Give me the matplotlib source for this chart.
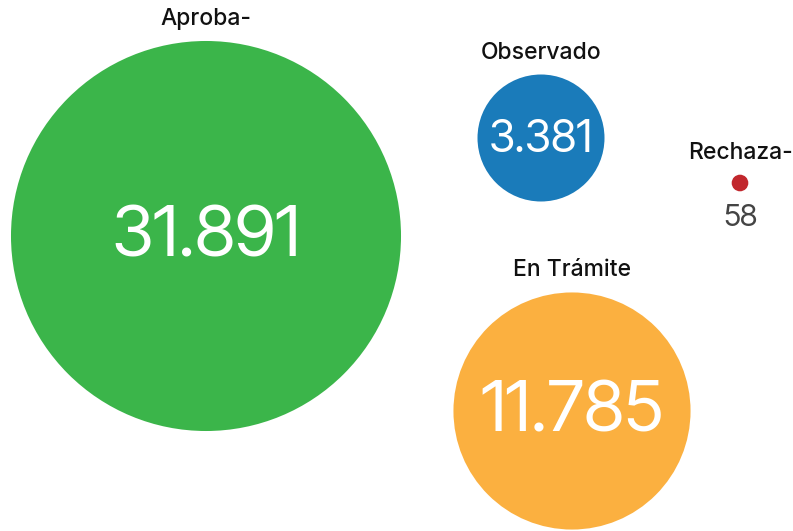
import matplotlib
matplotlib.use("Agg")
from matplotlib import pyplot as plt
from matplotlib.patches import Circle
import numpy as np

# data
labels = ["Aproba-", "Observado", "Rechaza-", "En Trámite"]
values = [31891, 3381, 58, 11785]
value_text = ["31.891", "3.381", "58", "11.785"]
colors = ["#3bb54a", "#1a7bba", "#c1272d", "#fbb040"]

# layout (pixel coords of bubble centres)
centres = [(206, 236), (541, 138), (740, 183), (572, 411)]
scale = 1.092  # px per sqrt(unit)

plt.rcParams['font.family'] = ['Inter', 'DejaVu Sans']
num_font = ['Inter Tight', 'Open Sans', 'DejaVu Sans']

fig = plt.figure(figsize=(7.93, 5.31), dpi=100)
ax = fig.add_axes([0, 0, 1, 1])
ax.set_xlim(0, 793)
ax.set_ylim(531, 0)
ax.set_aspect('equal')
ax.axis('off')

for lab, v, vt, c, (cx, cy) in zip(labels, values, value_text, colors, centres):
    r = np.sqrt(v) * scale
    ax.add_patch(Circle((cx, cy), r, color=c, lw=0))
    ax.text(cx, cy - r - 11, lab, ha='center', va='bottom', fontsize=16.5,
            fontweight=500, color='#111111')
    if r > 30:
        fs = 51 if r > 100 else 32
        ax.text(cx, cy + 2, vt, ha='center', va='center', fontsize=fs,
                color='white', family=num_font)
    else:
        ax.text(cx, cy + r + 13, vt, ha='center', va='top', fontsize=22,
                color='#444444', family=num_font)

fig.savefig("out.png", dpi=100)
